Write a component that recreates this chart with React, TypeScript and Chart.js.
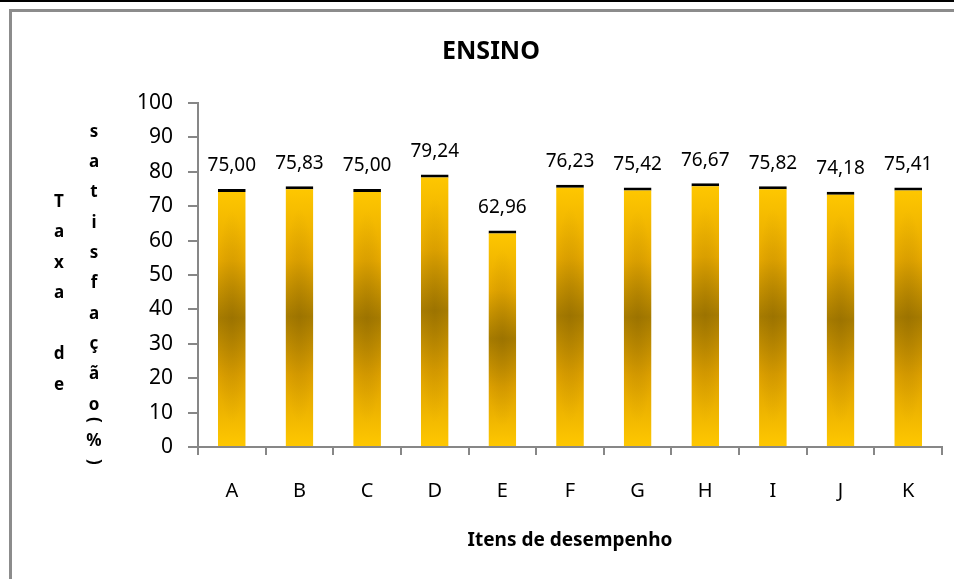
import React, { useEffect, useRef } from 'react';
import { Chart, registerables } from 'chart.js';

Chart.register(...registerables);

const categories = ['A', 'B', 'C', 'D', 'E', 'F', 'G', 'H', 'I', 'J', 'K'];
const values = [75.0, 75.83, 75.0, 79.24, 62.96, 76.23, 75.42, 76.67, 75.82, 74.18, 75.41];
const chartTitle = 'ENSINO';
const xAxisTitle = 'Itens de desempenho';
const yTitleCol1 = 'Taxa de';
const yTitleCol2 = 'satisfação (%)';

const FONT = '"Noto Sans", "Open Sans", sans-serif';
const AXIS_GRAY = '#878787';

const fmt = (v: number) => v.toFixed(2).replace('.', ',');

const framePlugin = {
  id: 'frame',
  beforeDraw(chart: any) {
    const { ctx, width, height } = chart;
    ctx.save();
    ctx.fillStyle = '#ffffff';
    ctx.fillRect(0, 0, width, height);
    ctx.fillStyle = '#000000';
    ctx.fillRect(0, 0, width, 2);
    ctx.fillStyle = '#8c8c8c';
    ctx.fillRect(9, 9, width - 9, 3);
    ctx.fillRect(9, 9, 3, height - 9);
    ctx.restore();
  },
};

const barShadePlugin = {
  id: 'barShade',
  afterDatasetsDraw(chart: any) {
    const { ctx } = chart;
    const meta = chart.getDatasetMeta(0);
    ctx.save();
    meta.data.forEach((el: any) => {
      const left = el.x - el.width / 2;
      const top = el.y + 3;
      const h = el.base - top;
      const cx = el.x;
      const cy = (el.y + el.base) / 2;
      ctx.save();
      ctx.beginPath();
      ctx.rect(left, top, el.width, h);
      ctx.clip();
      ctx.translate(cx, cy);
      ctx.scale(1, (h * 0.35) / (el.width * 0.5));
      const r = el.width * 0.5;
      const g = ctx.createRadialGradient(0, 0, 0, 0, 0, r * 1.2);
      g.addColorStop(0, 'rgba(110,80,0,0.22)');
      g.addColorStop(1, 'rgba(110,80,0,0)');
      ctx.fillStyle = g;
      ctx.fillRect(-r * 2, -r * 2, r * 4, r * 4);
      ctx.restore();
    });
    ctx.restore();
  },
};

const dataLabelPlugin = {
  id: 'dataLabels',
  afterDatasetsDraw(chart: any) {
    const { ctx } = chart;
    const meta = chart.getDatasetMeta(0);
    const ds = chart.data.datasets[0];
    ctx.save();
    ctx.font = `19px ${FONT}`;
    ctx.fillStyle = '#000';
    ctx.textAlign = 'center';
    ctx.textBaseline = 'middle';
    meta.data.forEach((el: any, i: number) => {
      ctx.fillText(fmt(ds.data[i] as number), el.x, el.y - 23);
    });
    ctx.restore();
  },
};

const yTitlePlugin = {
  id: 'yTitleStacked',
  afterDraw(chart: any) {
    const { ctx } = chart;
    ctx.save();
    ctx.font = `bold 17px ${FONT}`;
    ctx.fillStyle = '#000';
    ctx.textAlign = 'center';
    ctx.textBaseline = 'middle';
    // first column
    const x1 = 59;
    let y = 202;
    for (const ch of yTitleCol1) {
      if (ch !== ' ') ctx.fillText(ch, x1, y);
      y += 30.5;
    }
    // second column
    const x2 = 94;
    y = 132;
    const chars = Array.from(yTitleCol2);
    for (let i = 0; i < chars.length; i++) {
      const ch = chars[i];
      if (ch === ' ') {
        y -= 15;
        continue;
      }
      if (ch === '(' || ch === ')') {
        ctx.save();
        ctx.translate(x2, y);
        ctx.rotate(Math.PI / 2);
        ctx.fillText(ch, 0, 0);
        ctx.restore();
        y += 21;
      } else {
        ctx.fillText(ch, x2, y);
        y += ch === '%' ? 21 : 30.3;
      }
    }
    ctx.restore();
  },
};

export default function App() {
  const ref = useRef<HTMLCanvasElement | null>(null);

  useEffect(() => {
    if (!ref.current) return;
    const chart = new Chart(ref.current, {
      type: 'bar',
      data: {
        labels: categories,
        datasets: [
          {
            data: values,
            backgroundColor: (c: any) => {
              const ch = c.chart;
              const { ctx, chartArea, scales } = ch;
              if (!chartArea || c.type !== 'data' || !scales.y) return '#FFC800';
              const top = scales.y.getPixelForValue(c.raw);
              const base = scales.y.getPixelForValue(0);
              const g = ctx.createLinearGradient(0, top, 0, base);
              g.addColorStop(0, '#FFC800');
              g.addColorStop(0.28, '#E6A800');
              g.addColorStop(0.5, '#A97D00');
              g.addColorStop(0.72, '#DDA000');
              g.addColorStop(1, '#FFC800');
              return g;
            },
            borderColor: '#000000',
            borderWidth: { top: 3, right: 0, bottom: 0, left: 0 },
            borderSkipped: false,
            barPercentage: 0.41,
            categoryPercentage: 1,
          },
        ],
      },
      options: {
        responsive: false,
        animation: false,
        events: [],
        layout: { padding: { left: 40, right: 12, top: 0, bottom: 0 } },
        plugins: {
          legend: { display: false },
          tooltip: { enabled: false },
          title: {
            display: true,
            text: chartTitle,
            color: '#000',
            font: { family: FONT, size: 25, weight: 'bold', lineHeight: 1.2 },
            padding: { top: 37, bottom: 36 },
          },
        },
        scales: {
          x: {
            offset: true,
            grid: {
              offset: true,
              drawOnChartArea: false,
              drawTicks: true,
              tickLength: 8,
              color: AXIS_GRAY,
              lineWidth: 2,
            },
            border: { display: true, color: AXIS_GRAY, width: 2 },
            ticks: {
              color: '#000',
              font: { family: FONT, size: 20 },
              padding: 24,
            },
            title: {
              display: true,
              text: xAxisTitle,
              color: '#000',
              font: { family: FONT, size: 19, weight: 'bold', lineHeight: 1.2 },
              padding: { top: 0, bottom: 27 },
            },
            afterFit: (s: any) => {
              s.height = 132;
            },
          },
          y: {
            min: 0,
            max: 100,
            grid: {
              drawOnChartArea: false,
              drawTicks: true,
              tickLength: 10,
              color: AXIS_GRAY,
              lineWidth: 2,
            },
            border: { display: true, color: AXIS_GRAY, width: 2 },
            ticks: {
              stepSize: 10,
              color: '#000',
              font: { family: FONT, size: 21 },
              padding: 15,
            },
            afterFit: (s: any) => {
              s.width = 158;
            },
          },
        },
      },
      plugins: [framePlugin, barShadePlugin, dataLabelPlugin, yTitlePlugin],
    });
    return () => chart.destroy();
  }, []);

  return (
    <div style={{ position: 'fixed', left: 0, top: 0, width: 954, height: 579, background: '#fff' }}>
      <canvas ref={ref} width={954} height={579} style={{ display: 'block' }} />
    </div>
  );
}
